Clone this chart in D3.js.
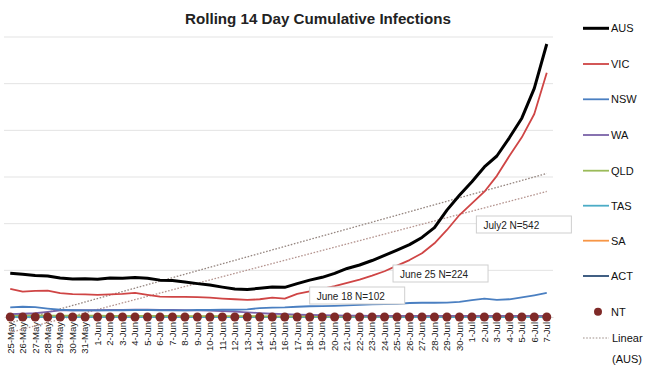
<!DOCTYPE html>
<html><head><meta charset="utf-8">
<script src="https://cdn.jsdelivr.net/npm/d3@7"></script>
<style>body{margin:0;background:#fff}svg{display:block}text{font-family:"Liberation Sans",Arial,sans-serif}</style>
</head><body><svg id="c" width="650" height="366"></svg>
<script>
const dates = ["25-May","26-May","27-May","28-May","29-May","30-May","31-May","1-Jun","2-Jun","3-Jun","4-Jun","5-Jun","6-Jun","7-Jun","8-Jun","9-Jun","10-Jun","11-Jun","12-Jun","13-Jun","14-Jun","15-Jun","16-Jun","17-Jun","18-Jun","19-Jun","20-Jun","21-Jun","22-Jun","23-Jun","24-Jun","25-Jun","26-Jun","27-Jun","28-Jun","29-Jun","30-Jun","1-Jul","2-Jul","3-Jul","4-Jul","5-Jul","6-Jul","7-Jul"];
const AUS = [187,183,178,176,167,163,164,162,167,166,169,166,158,156,150,143,137,128,120,118,123,129,127,143,158,170,187,208,223,242,264,287,310,341,383,458,522,580,643,690,768,852,980,1170];
const VIC = [121,109,112,113,102,98,97,95,97,99,103,95,87,86,86,85,83,79,76,73,76,83,79,99,110,120,132,146,160,177,196,220,244,273,316,373,437,487,537,605,690,770,870,1047];
const NSW = [41,44,42,36,31,29,28,28,28,29,30,30,29,28,28,30,30,31,31,33,38,40,41,44,46,47,48,50,52,54,55,56,60,61,61,62,65,72,79,73,76,84,93,103];
const WA  = [12,14,16,22,28,29,29,29,30,30,31,31,30,30,29,28,27,25,23,20,17,14,12,10,9,8,7,6,6,5,5,5,5,5,5,5,5,5,5,5,5,5,5,5];
const QLD = [7,7,7,6,6,6,6,6,5,5,5,5,5,5,4,4,4,4,4,4,3,3,3,3,3,3,3,3,3,3,3,3,4,4,4,4,4,4,4,4,4,4,4,4];
const TAS = [0,0,0,0,0,0,0,0,0,0,0,0,0,0,0,0,0,0,0,0,0,0,0,0,0,0,0,0,0,0,0,0,0,0,0,0,0,0,0,0,0,0,0,0];
const SA  = [3,3,3,3,3,3,2,2,2,2,2,2,2,2,2,2,1,1,1,1,1,1,1,1,1,1,1,1,1,1,1,1,2,2,2,2,2,2,2,2,2,2,2,2];
const ACT = [0,0,0,0,0,0,0,0,0,0,0,0,0,0,0,0,0,0,0,0,0,0,0,1,1,1,1,2,2,2,2,2,2,2,2,2,2,2,2,2,2,1,1,1];
const NT  = [0,0,0,0,0,0,0,0,0,0,0,0,0,0,0,0,0,0,0,0,0,0,0,0,0,0,0,0,0,0,0,0,0,0,0,0,0,0,0,0,0,0,0,0];
const trendAUS = [-25, 615];   // values at first and last date
const trendVIC = [-66, 538];
const yTicks = [0,200,400,600,800,1000,1200];
const notes = [{date:"18-Jun", label:"June 18 N=102"},{date:"25-Jun", label:"June 25 N=224"},{date:"2-Jul", label:"July2 N=542"}];

const series = [
  {name:"AUS", values:AUS, color:"#000000", w:3},
  {name:"VIC", values:VIC, color:"#cf4545", w:1.8},
  {name:"NSW", values:NSW, color:"#4a7fc1", w:1.8},
  {name:"WA",  values:WA,  color:"#7a62a8", w:1.8},
  {name:"QLD", values:QLD, color:"#9bbb59", w:1.8},
  {name:"TAS", values:TAS, color:"#4bacc6", w:1.8},
  {name:"SA",  values:SA,  color:"#f79646", w:1.8},
  {name:"ACT", values:ACT, color:"#2c4d75", w:1.8}
];

const svg = d3.select("#c");
const x = d3.scaleBand().domain(dates).range([4, 553]);
const y = d3.scaleLinear().domain([0,1200]).range([317, 37]);
const cx = d => x(d) + x.bandwidth()/2;

// gridlines
svg.append("g").selectAll("line").data(yTicks.slice(1)).join("line")
  .attr("x1",4).attr("x2",553).attr("y1",d=>y(d)).attr("y2",d=>y(d))
  .attr("stroke","#e3e3e3").attr("stroke-width",1);

// x axis
const xa = svg.append("g").attr("transform",`translate(0,${y(0)})`)
  .call(d3.axisBottom(x).tickSize(0).tickPadding(0));
xa.select(".domain").attr("stroke","#d9d9d9");
xa.selectAll("text").attr("transform","rotate(-90)").attr("text-anchor","end")
  .attr("x",-5).attr("y",0).attr("dy","0.35em").attr("font-size","9.5px").attr("fill","#222")
  .style("font-family","Liberation Sans, Arial, sans-serif");

// trendlines
const tl = [{v:trendAUS, c:"#958680"},{v:trendVIC, c:"#b59590"}];
svg.append("g").selectAll("line").data(tl).join("line")
  .attr("x1",cx(dates[0])).attr("x2",cx(dates[dates.length-1]))
  .attr("y1",d=>y(d.v[0])).attr("y2",d=>y(d.v[1]))
  .attr("stroke",d=>d.c).attr("stroke-width",1.3).attr("stroke-dasharray","1.6,1.6");

// series lines
const line = d3.line().x((d,i)=>cx(dates[i])).y(d=>y(d));
const drawOrder = series.slice().reverse();
svg.append("g").selectAll("path").data(drawOrder).join("path")
  .attr("d",d=>line(d.values)).attr("fill","none")
  .attr("stroke",d=>d.color).attr("stroke-width",d=>d.w).attr("stroke-linejoin","round");

// NT markers
svg.append("g").selectAll("circle").data(NT).join("circle")
  .attr("cx",(d,i)=>cx(dates[i])).attr("cy",d=>y(d)).attr("r",4.5).attr("fill","#7f2a28");

// annotations
const boxW = {"June 18 N=102":95,"June 25 N=224":95,"July2 N=542":95};
const noteOffsets = {"June 18 N=102":[0,-30],"June 25 N=224":[-4,-52],"July2 N=542":[-8,-101]};
notes.forEach(n=>{
  const bx = cx(n.date) + noteOffsets[n.label][0];
  const by = y(0) + noteOffsets[n.label][1];
  const g = svg.append("g");
  g.append("rect").attr("x",bx).attr("y",by).attr("width",boxW[n.label]).attr("height",17)
    .attr("fill","#fff").attr("stroke","#cfcfcf").attr("stroke-width",1);
  g.append("text").attr("x",bx+7).attr("y",by+12.5).attr("font-size","10px").attr("fill","#222").text(n.label);
});

// title
const t = svg.append("text").attr("x",318).attr("y",24).attr("text-anchor","middle")
  .attr("font-weight","bold").attr("font-size","15px").attr("fill","#222").text("Rolling 14 Day Cumulative Infections");
const tw = t.node().getComputedTextLength();
t.attr("font-size",(15*266/tw).toFixed(2)+"px");

// legend
const leg = svg.append("g");
const legY = [28.3,64,99.3,135,170.7,205.7,240.7,276];
series.forEach((s,i)=>{
  leg.append("line").attr("x1",583).attr("x2",609).attr("y1",legY[i]).attr("y2",legY[i])
    .attr("stroke",s.color).attr("stroke-width",s.name==="AUS"?3:1.8);
  leg.append("text").attr("x",611).attr("y",legY[i]).attr("dy","0.36em").attr("font-size","11px").attr("fill","#111").text(s.name);
});
leg.append("circle").attr("cx",598).attr("cy",311.7).attr("r",4).attr("fill","#7f2a28");
leg.append("text").attr("x",611).attr("y",311.7).attr("dy","0.36em").attr("font-size","11px").attr("fill","#111").text("NT");
leg.append("line").attr("x1",583).attr("x2",609).attr("y1",338).attr("y2",338)
  .attr("stroke","#9e9089").attr("stroke-width",1.2).attr("stroke-dasharray","1.6,1.6");
leg.append("text").attr("x",612).attr("y",342).attr("font-size","11px").attr("fill","#111").text("Linear");
leg.append("text").attr("x",612).attr("y",363).attr("font-size","11px").attr("fill","#111").text("(AUS)");
</script></body></html>
